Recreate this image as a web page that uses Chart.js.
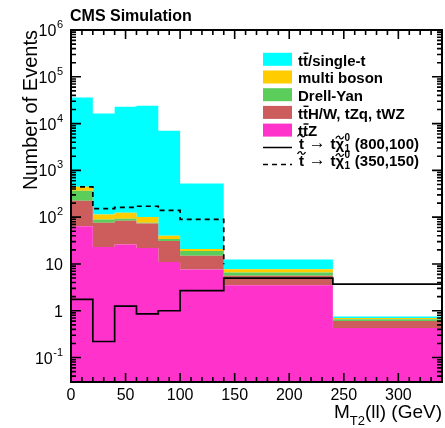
<!DOCTYPE html>
<html><head><meta charset="utf-8">
<script src="https://cdn.jsdelivr.net/npm/chart.js@4"></script>
<style>html,body{margin:0;padding:0;background:#fff}canvas{display:block}</style>
</head><body>
<canvas id="c" width="445" height="428"></canvas>
<script>
// ---- data ----
const binEdges = [0, 20, 40, 60, 80, 100, 140, 240, 340];
const ttZ        = [64, 23, 26, 22, 11, 7.6, 3.5, 0.43];
const ttHWtZqtWZ = [160, 53, 58, 51, 20, 7.4, 2.1, 0.17];
const drellYan   = [141, 13, 9, 3, 3, 4, 1.0, 0.06];
const multiBoson = [80, 25, 31, 25, 6, 2, 1.1, 0.04];
const ttSingleT  = [35500, 16400, 22900, 23900, 6960, 504, 4.7, 0.05];
const stop800_100 = [1.75, 0.22, 1.26, 0.86, 1.0, 2.7, 5.0, 3.7];
const stop350_150 = [445, 152, 162, 171, 139, 90, 9.8, 0];
const xTickValues = [0, 50, 100, 150, 200, 250, 300];
const yDecades = [-1, 0, 1, 2, 3, 4, 5, 6];

const FONT = '"Liberation Sans", Arial, Helvetica, sans-serif';

function steps(vals) {
  return binEdges.map((x, i) => ({ x: x, y: vals[Math.min(i, vals.length - 1)] }));
}
function cumulate(list) {
  const out = []; let run = list[0].map(() => 0);
  list.forEach(a => { run = run.map((v, i) => v + a[i]); out.push(run.slice()); });
  return out;
}
const stackOrder = [ttZ, ttHWtZqtWZ, drellYan, multiBoson, ttSingleT];
const stackColors = ['#ff33cc', '#cd5c5c', '#5acd5a', '#ffcc00', '#00ffff'];
const cum = cumulate(stackOrder);

const datasets = cum.map((vals, i) => ({
  data: steps(vals),
  stepped: true,
  borderWidth: 0,
  borderColor: 'rgba(0,0,0,0)',
  backgroundColor: stackColors[i],
  fill: i === 0 ? 'start' : '-1',
  pointRadius: 0,
  order: 2
}));
datasets.push({
  data: steps(stop800_100), stepped: true, borderColor: '#000', borderWidth: 1.7,
  fill: false, pointRadius: 0, order: 0
});
datasets.push({
  data: steps(stop350_150), stepped: true, borderColor: '#000', borderWidth: 1.7,
  borderDash: [5, 4], fill: false, pointRadius: 0, order: 0
});

function drawParts(ctx, x, y, parts) {
  ctx.textBaseline = 'alphabetic';
  ctx.textAlign = 'left';
  parts.forEach(p => {
    ctx.font = p.f;
    const w = ctx.measureText(p.t).width;
    ctx.fillText(p.t, x, y + (p.dy || 0));
    if (p.bar) {
      ctx.fillRect(x + 0.5, y - 13, w, 1.4);
    }
    if (p.tilde) {
      ctx.save(); ctx.lineWidth = 1.3; ctx.setLineDash([]); ctx.beginPath();
      const cx = x + w / 2, ty = y - (p.tildeY || 14);
      ctx.moveTo(cx - 4, ty + 1);
      ctx.bezierCurveTo(cx - 2, ty - 3, cx, ty - 1, cx, ty);
      ctx.bezierCurveTo(cx, ty + 1, cx + 2, ty + 3, cx + 4, ty - 1);
      ctx.stroke(); ctx.restore();
    }
    let adv = w;
    if (p.supsub) {
      ctx.font = 'bold 10px ' + FONT;
      const w1 = ctx.measureText(p.supsub[0]).width, w2 = ctx.measureText(p.supsub[1]).width;
      ctx.fillText(p.supsub[0], x + w + 0.5, y - 8);
      ctx.fillText(p.supsub[1], x + w + 0.5, y + 3);
      adv += Math.max(w1, w2) + 1;
    }
    x += adv;
  });
  return x;
}

const decor = {
  id: 'decor',
  afterDraw(chart) {
    const ctx = chart.ctx, xs = chart.scales.x, ys = chart.scales.y, a = chart.chartArea;
    ctx.save();
    ctx.setLineDash([]);
    ctx.globalAlpha = 1;
    ctx.globalCompositeOperation = 'source-over';
    ctx.fillStyle = '#000'; ctx.strokeStyle = '#000';
    const L = a.left, R = a.right, T = a.top, Bt = a.bottom;
    // ticks (inward, all four sides)
    ctx.lineWidth = 1.6;
    ctx.beginPath();
    for (let v = 0; v <= 340; v += 10) {
      const px = xs.getPixelForValue(v);
      const len = (v % 50 === 0) ? 9 : 5;
      ctx.moveTo(px, Bt); ctx.lineTo(px, Bt - len);
      ctx.moveTo(px, T); ctx.lineTo(px, T + len);
    }
    for (let d = -2; d <= 6; d++) {
      for (let m = 1; m <= 9; m++) {
        const v = m * Math.pow(10, d);
        if (v < 0.0299 || v > 1.0001e6) continue;
        const py = ys.getPixelForValue(v);
        const len = m === 1 ? 10 : 5;
        ctx.moveTo(L, py); ctx.lineTo(L + len, py);
        ctx.moveTo(R, py); ctx.lineTo(R - len, py);
      }
    }
    ctx.stroke();
    // frame
    ctx.lineWidth = 2;
    ctx.strokeRect(L, T, R - L, Bt - T);

    // x tick labels
    ctx.font = '16px ' + FONT; ctx.textAlign = 'center'; ctx.textBaseline = 'alphabetic';
    xTickValues.forEach(v => ctx.fillText(String(v), xs.getPixelForValue(v), Bt + 18));
    // y tick labels
    yDecades.forEach(d => {
      const py = ys.getPixelForValue(Math.pow(10, d)) + 6;
      const rx = 63;
      if (d === 0 || d === 1) {
        ctx.font = '16px ' + FONT; ctx.textAlign = 'right';
        ctx.fillText(d === 0 ? '1' : '10', rx, py);
      } else {
        ctx.font = '11px ' + FONT; ctx.textAlign = 'right';
        const e = String(d);
        const ew = ctx.measureText(e).width;
        ctx.fillText(e, rx, py - 8);
        ctx.font = '16px ' + FONT;
        ctx.fillText('10', rx - ew - 0.5, py);
      }
    });
    // y title
    ctx.save();
    ctx.translate(37, 30); ctx.rotate(-Math.PI / 2);
    ctx.font = '20px ' + FONT; ctx.textAlign = 'right';
    ctx.fillText('Number of Events', 0, 0);
    ctx.restore();
    // x title
    ctx.textAlign = 'left';
    {
      const base = 418;
      ctx.font = '19px ' + FONT;
      const t3 = '(ll) (GeV)';
      const w3 = ctx.measureText(t3).width;
      const wM = ctx.measureText('M').width;
      ctx.font = '13px ' + FONT;
      const wS = ctx.measureText('T2').width;
      let x0 = 442 - w3 - wS - wM;
      ctx.font = '19px ' + FONT; ctx.fillText('M', x0, base);
      ctx.font = '13px ' + FONT; ctx.fillText('T2', x0 + wM, base + 7);
      ctx.font = '19px ' + FONT; ctx.fillText(t3, x0 + wM + wS, base);
    }
    // CMS label
    ctx.font = 'bold 16px ' + FONT; ctx.textAlign = 'left';
    ctx.fillText('CMS Simulation', 70, 21);

    // legend
    const B = 'bold 15px ' + FONT;
    const rows = [59.3, 77, 94.7, 112.4, 130.1];
    const legendItems = [
      { c: stackColors[4], parts: [{ t: 't', f: B }, { t: 't', f: B, bar: true }, { t: '/single-t', f: B }] },
      { c: stackColors[3], parts: [{ t: 'multi boson', f: B }] },
      { c: stackColors[2], parts: [{ t: 'Drell-Yan', f: B }] },
      { c: stackColors[1], parts: [{ t: 't', f: B }, { t: 't', f: B, bar: true }, { t: 'H/W, tZq, tWZ', f: B }] },
      { c: stackColors[0], parts: [{ t: 't', f: B }, { t: 't', f: B, bar: true }, { t: 'Z', f: B }] }
    ];
    legendItems.forEach((it, i) => {
      ctx.fillStyle = it.c;
      ctx.fillRect(263, rows[i] - 6.5, 29, 13);
      ctx.fillStyle = '#000';
      drawParts(ctx, 298, rows[i] + 6.2, it.parts);
    });
    const sigRows = [147.5, 164.5];
    const sigBase = [148.5, 166];
    const sigLabels = ['(800,100)', '(350,150)'];
    sigRows.forEach((ry, i) => {
      ctx.save();
      ctx.lineWidth = 1.5;
      if (i === 1) ctx.setLineDash([5, 4]);
      ctx.beginPath(); ctx.moveTo(263, ry); ctx.lineTo(292, ry); ctx.stroke();
      ctx.restore();
      drawParts(ctx, 299, sigBase[i], [
        { t: 't', f: B, tilde: true, tildeY: 13 },
        { t: ' \u2192 ', f: '17px ' + FONT, dy: -1 },
        { t: 't', f: B },
        { t: '\u03c7', f: B, tilde: true, tildeY: 11, supsub: ['0', '1'] },
        { t: ' ' + sigLabels[i], f: B }
      ]);
    });
    ctx.restore();
  }
};

new Chart(document.getElementById('c'), {
  type: 'line',
  data: { datasets: datasets },
  options: {
    responsive: false,
    animation: false,
    devicePixelRatio: 1,
    layout: { padding: { left: 71, right: 3, top: 30, bottom: 46 } },
    plugins: { legend: { display: false }, tooltip: { enabled: false }, filler: { drawTime: 'beforeDatasetsDraw' } },
    scales: {
      x: { type: 'linear', min: 0, max: 340, display: false },
      y: { type: 'logarithmic', min: 0.03, max: 1e6, display: false }
    }
  },
  plugins: [decor]
});
</script>
</body></html>
